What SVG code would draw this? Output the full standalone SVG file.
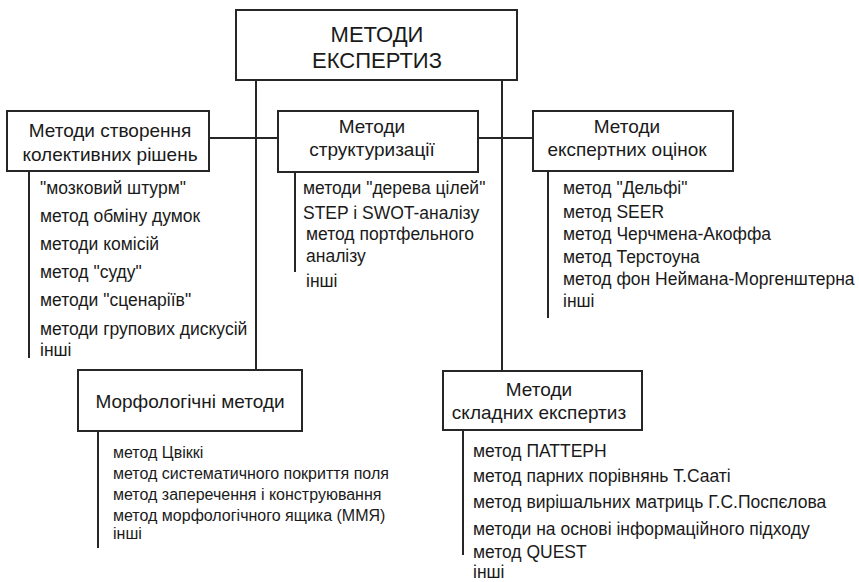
<svg xmlns="http://www.w3.org/2000/svg" width="859" height="582" viewBox="0 0 859 582">
<style>
.box{fill:#fff;stroke:#262626;stroke-width:2}
.ln{stroke:#262626;stroke-width:2;fill:none}
text{font-family:"Liberation Sans",Arial,sans-serif;fill:#1a1a1a}
.t{font-size:19px;text-anchor:middle}
.h{font-size:22px;text-anchor:middle}
.i{font-size:17.5px}
.s{font-size:16px}
</style>
<rect width="859" height="582" fill="#fff"/>
<g id="connectors">
<line class="ln" x1="256" y1="80" x2="256" y2="370"/>
<line class="ln" x1="502" y1="80" x2="502" y2="371"/>
<line class="ln" x1="209" y1="138" x2="278" y2="138"/>
<line class="ln" x1="478" y1="138" x2="533" y2="138"/>
<line class="ln" x1="29" y1="171" x2="29" y2="358"/>
<line class="ln" x1="295" y1="172" x2="295" y2="272"/>
<line class="ln" x1="548" y1="171" x2="548" y2="318"/>
<line class="ln" x1="98" y1="431" x2="98" y2="548"/>
<line class="ln" x1="463" y1="430" x2="463" y2="555"/>
</g>
<g id="root">
<rect class="box" x="236" y="10" width="281" height="70"/>
<text class="h" x="377" y="42">МЕТОДИ</text>
<text class="h" x="377" y="68">ЕКСПЕРТИЗ</text>
</g>
<g id="collective">
<rect class="box" x="7" y="111" width="202" height="60"/>
<text class="t" x="110" y="137">Методи створення</text>
<text class="t" x="110" y="161">колективних рішень</text>
<text class="i" x="40" y="194">"мозковий штурм"</text>
<text class="i" x="40" y="222">метод обміну думок</text>
<text class="i" x="40" y="250">методи комісій</text>
<text class="i" x="40" y="278">метод "суду"</text>
<text class="i" x="40" y="306">методи "сценаріїв"</text>
<text class="i" x="40" y="335">методи групових дискусій</text>
<text class="i" x="40" y="356">інші</text>
</g>
<g id="structuring">
<rect class="box" x="278" y="111" width="200" height="61"/>
<text class="t" x="372" y="133">Методи</text>
<text class="t" x="372" y="156">структуризації</text>
<text class="i" x="303" y="194">методи "дерева цілей"</text>
<text class="i" x="303" y="219">STEP і SWOT-аналізу</text>
<text class="i" x="306" y="240">метод портфельного</text>
<text class="i" x="306" y="262">аналізу</text>
<text class="i" x="306" y="287">інші</text>
</g>
<g id="expert">
<rect class="box" x="533" y="111" width="200" height="60"/>
<text class="t" x="627" y="133">Методи</text>
<text class="t" x="627" y="156">експертних оцінок</text>
<text class="i" x="563" y="194">метод "Дельфі"</text>
<text class="i" x="563" y="218">метод SEER</text>
<text class="i" x="563" y="240">метод Черчмена-Акоффа</text>
<text class="i" x="563" y="263">метод Терстоуна</text>
<text class="i" x="563" y="285">метод фон Неймана-Моргенштерна</text>
<text class="i" x="563" y="307">інші</text>
</g>
<g id="morph">
<rect class="box" x="78" y="370" width="224" height="61"/>
<text class="t" x="190" y="408">Морфологічні методи</text>
<text class="s" x="113" y="458">метод Цвіккі</text>
<text class="s" x="113" y="479">метод систематичного покриття поля</text>
<text class="s" x="113" y="500">метод заперечення і конструювання</text>
<text class="s" x="113" y="521">метод морфологічного ящика (ММЯ)</text>
<text class="s" x="113" y="539">інші</text>
</g>
<g id="complex">
<rect class="box" x="443" y="371" width="199" height="59"/>
<text class="t" x="539" y="396">Методи</text>
<text class="t" x="539" y="419">складних експертиз</text>
<text class="i" x="473" y="457">метод ПАТТЕРН</text>
<text class="i" x="473" y="482">метод парних порівнянь Т.Сааті</text>
<text class="i" x="473" y="508">метод вирішальних матриць Г.С.Поспєлова</text>
<text class="i" x="473" y="535">методи на основі інформаційного підходу</text>
<text class="i" x="473" y="558">метод QUEST</text>
<text class="i" x="473" y="578">інші</text>
</g>
</svg>
